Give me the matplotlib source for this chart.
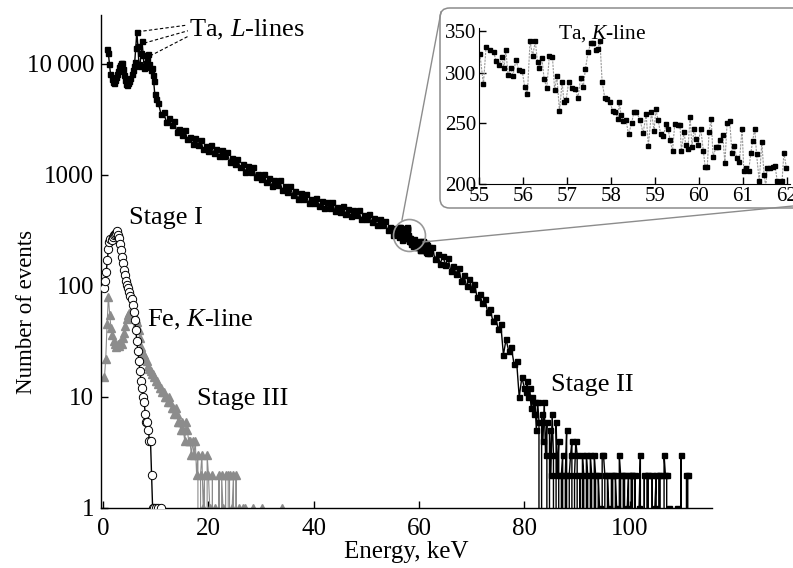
import numpy as np
import matplotlib
matplotlib.use("Agg")
import matplotlib.pyplot as plt
from matplotlib.ticker import NullLocator
from matplotlib.patches import FancyBboxPatch
from matplotlib.lines import Line2D

plt.rcParams['font.family'] = ['Liberation Serif', 'DejaVu Serif']
plt.rcParams['mathtext.fontset'] = 'custom'
plt.rcParams['mathtext.rm'] = 'Liberation Serif'
plt.rcParams['mathtext.it'] = 'Liberation Serif:italic'

# ---- data ----
# Stage I (open circles), 0.2 keV bins starting at 0.2 keV
stage1_start, stage1_step = 0.2, 0.2
stage1_counts = [95, 110, 135, 170, 215, 250, 265, 262, 275, 285,
                 295, 300, 310, 290, 268, 240, 210, 182, 160, 140,
                 125, 112, 102, 95, 88, 82, 76, 68, 58, 49,
                 40, 32, 26, 21, 17, 14, 12, 10, 9, 7,
                 6, 6, 5, 4, 4, 2, 1, 1, 0, 1,
                 0, 1, 0, 0, 1]

# Stage III (grey triangles), 0.25 keV bins starting at 0.25 keV
stage3_start, stage3_step = 0.25, 0.25
stage3_counts = [15, 22, 45, 80, 55, 42, 36, 32,
                 30, 28, 30, 29, 31, 30, 34, 38,
                 44, 50, 55, 57, 59, 56, 58, 54,
                 50, 47, 40, 34, 28, 25, 24, 22,
                 21, 19, 18, 17, 16, 16, 15, 14,
                 14, 13, 12, 12, 11, 11, 10, 10,
                 9, 10, 9, 8, 8, 7, 8, 7,
                 6, 6, 5, 6, 5, 4, 6, 5,
                 4, 4, 3, 4, 3, 4, 2, 3,
                 0, 2, 3, 1, 2, 0, 3, 2,
                 1, 0, 2, 0, 1, 0, 0, 2,
                 0, 2, 1, 0, 2, 0, 2, 2,
                 0, 1, 2, 0, 2, 0, 1, 0,
                 0, 1, 0, 1, 0, 0, 0, 0,
                 0, 1, 0, 0, 0, 0, 0, 0,
                 1, 0, 0, 0, 0, 0, 0, 0,
                 0, 0, 0, 0, 0, 0, 0, 1,
                 0, 0, 0, 0]

# Stage II (black squares), pieces with different bin widths
low_start, low_step = 0.8, 0.2          # Ta L-lines region
low_counts = [13500, 12500, 10000, 8200, 7300, 6900, 6800, 7100, 7600, 8200,
              8700, 9300, 9800, 10300, 10100, 9000, 7900, 7100, 6600, 6500,
              6700, 7000, 7500, 8200, 8900, 9600, 10400, 14000, 19500, 14500,
              10000, 9600, 12500, 16000, 12000, 9200, 9400, 10200, 11200, 12200,
              10000, 8800, 9200, 8000, 7000, 5400, 4800]

mid_start, mid_step = 10.5, 0.5
mid_counts = [4430, 3530, 3660, 3000, 3290, 2830, 3050, 2440, 2600, 2300,
              2540, 2090, 2210, 1890, 2140, 1880, 2070, 1700, 1840, 1660,
              1870, 1570, 1700, 1470, 1670, 1480, 1620, 1320, 1420, 1260,
              1400, 1170, 1260, 1070, 1210, 1060, 1170, 960, 1030, 920,
              1030, 865, 930, 800, 910, 805, 895, 735, 790, 705,
              790, 660, 710, 610, 690, 610, 675, 560, 612, 555,
              626, 530, 577, 500, 572, 509, 569, 474, 515, 467,
              529, 448, 489, 425, 488, 434, 485, 402, 439, 397,
              446, 376, 407, 351, 399, 351, 388, 318, 343]

# Ta K-line region (inset)
inset_e = [55.02, 55.10, 55.16, 55.25, 55.33, 55.39, 55.45, 55.52, 55.57, 55.61,
           55.66, 55.72, 55.77, 55.84, 55.90, 55.98, 56.04, 56.10, 56.16, 56.22,
           56.28, 56.33, 56.37, 56.43, 56.48, 56.54, 56.60, 56.67, 56.72, 56.77,
           56.83, 56.89, 56.93, 56.98, 57.04, 57.11, 57.19, 57.25, 57.31, 57.37,
           57.42, 57.48, 57.54, 57.60, 57.66, 57.70, 57.75, 57.80, 57.86, 57.92,
           57.98, 58.04, 58.10, 58.16, 58.19, 58.23, 58.28, 58.34, 58.40,
           58.47, 58.52, 58.58, 58.66, 58.73, 58.80, 58.85, 58.92, 58.98, 59.02,
           59.07, 59.13, 59.19, 59.25, 59.30, 59.34, 59.40, 59.45, 59.52, 59.57,
           59.60, 59.66, 59.70, 59.75, 59.80, 59.84, 59.89, 59.93, 59.98, 60.04,
           60.10, 60.14, 60.19, 60.23, 60.28, 60.32, 60.39, 60.43, 60.48, 60.54,
           60.59, 60.64, 60.70, 60.75, 60.80, 60.86, 60.92, 60.98, 61.02, 61.08,
           61.13, 61.18, 61.22, 61.27, 61.31, 61.37, 61.43, 61.48, 61.52, 61.55,
           61.61, 61.68, 61.73, 61.78, 61.84, 61.89, 61.93, 61.99]
inset_counts = [322, 288, 330, 327, 324, 314, 309, 318, 306, 327,
                298, 306, 297, 315, 304, 303, 285, 278, 337, 320,
                337, 313, 306, 317, 294, 284, 320, 318, 282, 297,
                261, 291, 270, 272, 291, 284, 283, 274, 295, 285,
                305, 324, 335, 335, 327, 328, 337, 290, 274, 273,
                270, 261, 260, 254, 270, 257, 252, 253, 240,
                250, 260, 260, 253, 241, 258, 230, 260, 243, 263,
                253, 240, 238, 249, 245, 235, 226, 249, 248, 248,
                226, 242, 231, 227, 256, 229, 245, 236, 231, 245,
                226, 213, 213, 242, 254, 221, 229, 229, 235, 239,
                216, 250, 252, 224, 230, 220, 217, 245, 210, 212,
                210, 224, 234, 245, 223, 202, 233, 207, 198, 212,
                212, 213, 214, 202, 199, 202, 224, 212]

high_start, high_step = 62.5, 0.5
high_counts = [226, 174, 196, 158, 187, 155, 177, 137, 150, 129,
               146, 112, 125, 99, 116, 94, 105, 79, 84, 70,
               77, 58, 62, 48, 53, 41, 45, 24, 33, 26,
               28, 20, 21, 10, 15, 12]

tail_start, tail_step = 80.25, 0.25
tail_counts = [11, 14, 10, 12, 8, 10, 7, 9,
               5, 9, 6, 0, 7, 4, 9, 3,
               6, 0, 5, 2, 7, 3, 0, 6,
               2, 4, 0, 2, 3, 0, 2, 5,
               0, 2, 3, 4, 0, 2, 4, 3,
               0, 2, 0, 3, 2, 0, 3, 2,
               0, 3, 2, 0, 3, 2, 0, 2,
               1, 0, 3, 3, 2, 0, 2, 1,
               0, 2, 2, 0, 2, 1, 0, 3,
               2, 0, 2, 2, 0, 1, 2, 0,
               2, 2, 0, 2, 0, 0, 1, 3,
               0, 0, 2, 0, 2, 2, 0, 0,
               2, 0, 1, 2, 0, 2, 2, 0,
               0, 3, 2, 2, 0, 1, 0, 0,
               0, 0, 0, 1, 0, 0, 3, 0,
               0, 0, 2, 2, 0, 0, 0, 0]


def grid(start, step, values):
    return start + step * np.arange(len(values))


s1_e = grid(stage1_start, stage1_step, stage1_counts)
s3_e = grid(stage3_start, stage3_step, stage3_counts)
s2_e = np.concatenate([grid(low_start, low_step, low_counts),
                       grid(mid_start, mid_step, mid_counts),
                       np.array(inset_e),
                       grid(high_start, high_step, high_counts),
                       grid(tail_start, tail_step, tail_counts)])
s2_n = np.concatenate([low_counts, mid_counts, inset_counts,
                       high_counts, tail_counts]).astype(float)

W, H = 793, 568
fig = plt.figure(figsize=(W / 100, H / 100), dpi=100)
ax = fig.add_axes([101 / W, 1 - 508 / H, 611 / W, 493 / H])

ax.plot(s3_e, np.array(stage3_counts, float), color='0.55', lw=0.8,
        marker='^', ms=6, mfc='0.55', mec='0.55', zorder=2)
ax.plot(s1_e, np.array(stage1_counts, float), color='black', lw=1.0,
        marker='o', ms=6, mfc='white', mec='black', mew=0.7, zorder=3)
ax.plot(s2_e, s2_n, color='black', lw=1.0, marker='s', ms=3.6,
        mfc='black', mec='black', zorder=4)

ax.set_yscale('log')
ax.set_ylim(1, 27600)
ax.set_xlim(-0.4, 115.6)
ax.set_yticks([1, 10, 100, 1000, 10000])
ax.set_yticklabels(['1', '10', '100', '1000', '10\u2009000'])
ax.yaxis.set_minor_locator(NullLocator())
ax.set_xticks([0, 20, 40, 60, 80, 100])
ax.tick_params(direction='in', length=5, width=1, labelsize=18)
ax.tick_params(axis='x', pad=7)
ax.tick_params(axis='y', pad=5)
for s in ['top', 'right']:
    ax.spines[s].set_visible(False)
for s in ['left', 'bottom']:
    ax.spines[s].set_linewidth(1)
ax.set_xlabel('Energy, keV', fontsize=18, labelpad=1)
ax.set_ylabel('Number of events', fontsize=16.5)
ax.yaxis.set_label_coords(-0.105, 0.398)

# annotations
ax.text(16.3, 20200, 'Ta, $L$-lines', fontsize=19, ha='left', va='center')
for (x0, y0), (x1, y1) in [((6.6, 19500), (16.0, 22400)),
                           ((7.8, 15400), (16.1, 19900)),
                           ((8.9, 11800), (16.2, 17800))]:
    ax.plot([x0, x1], [y0, y1], color='black', lw=0.8, ls=(0, (3, 2)))
ax.text(4.9, 410, 'Stage I', fontsize=19, ha='left', va='center')
ax.text(8.4, 49, 'Fe, $K$-line', fontsize=19, ha='left', va='center')
ax.text(17.9, 9.6, 'Stage III', fontsize=19, ha='left', va='center')
ax.text(85.1, 12.8, 'Stage II', fontsize=19, ha='left', va='center')

# zoom circle
ax.plot([58.1], [289], marker='o', ms=23, mfc='none', mec='0.6', mew=1.2,
        zorder=5)

# connecting lines and inset frame
for (x0, y0), (x1, y1) in [((402, 220), (441, 12)), ((423, 242), (793, 206))]:
    fig.add_artist(Line2D([x0 / W, x1 / W], [1 - y0 / H, 1 - y1 / H],
                          transform=fig.transFigure, color='0.55', lw=1))
frame = FancyBboxPatch((440 / W, 1 - 208 / H), 370 / W, 200 / H,
                       boxstyle='round,pad=0,rounding_size=0.012',
                       mutation_aspect=W / H, transform=fig.transFigure,
                       fc='white', ec='0.55', lw=1.1, zorder=1)
fig.add_artist(frame)

axi = fig.add_axes([479 / W, 1 - 184 / H, 311 / W, 156 / H], zorder=3)
axi.patch.set_alpha(0)
axi.plot(inset_e, inset_counts, color='0.6', lw=0.8, ls=(0, (2, 1)),
         marker='s', ms=3, mfc='black', mec='black')
axi.set_yscale('log')
axi.set_ylim(200, 354)
axi.set_xlim(55, 62.07)
axi.set_yticks([200, 250, 300, 350])
axi.set_yticklabels(['200', '250', '300', '350'])
axi.yaxis.set_minor_locator(NullLocator())
axi.set_xticks(range(55, 63))
axi.tick_params(direction='in', length=5, width=1, labelsize=15, pad=2)
for s in ['top', 'right']:
    axi.spines[s].set_visible(False)
axi.text(57.8, 347, 'Ta, $K$-line', fontsize=15.5, ha='center', va='center')

fig.savefig('out.png', dpi=100)
